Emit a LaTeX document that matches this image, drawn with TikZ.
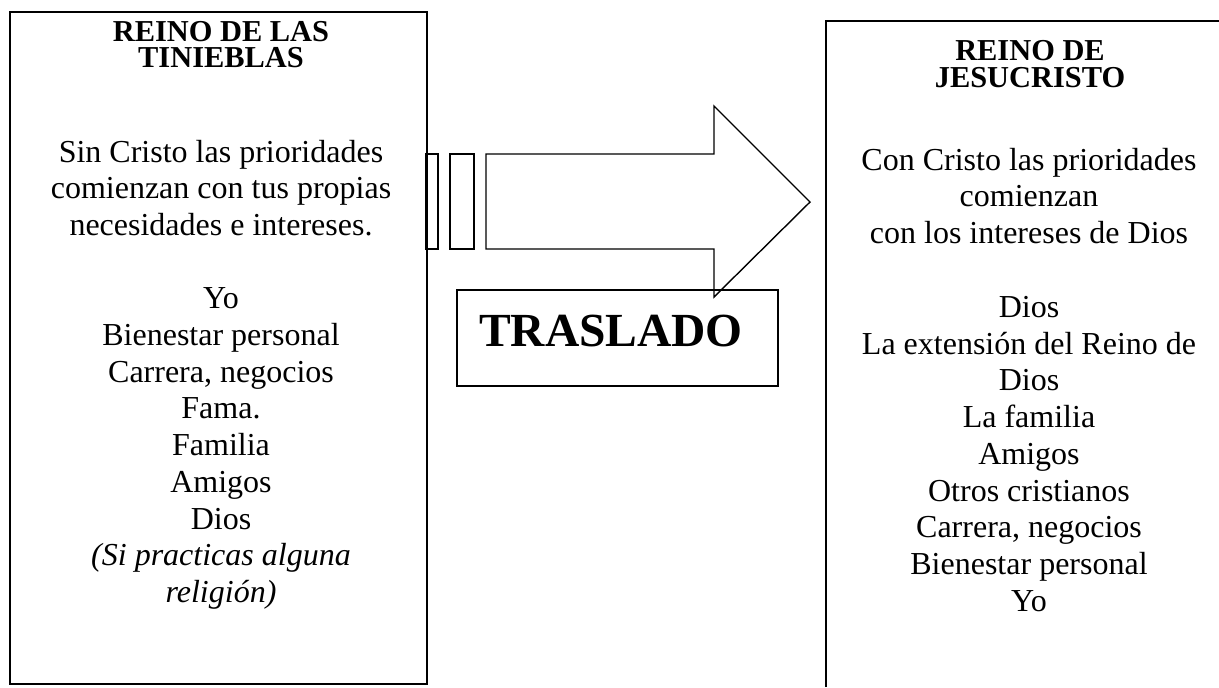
\documentclass[tikz,border=0pt]{standalone}
\usepackage{fontspec}
\setmainfont{Liberation Serif}
\usetikzlibrary{positioning, calc}
\tikzset{ % text and frame styles
  line/.style={line width=1pt},
  body/.style={anchor=base,inner sep=0,font=\fontsize{16}{18}\selectfont},
  title/.style={anchor=base,inner sep=0,text height=0.68em,text depth=0pt,
    font=\fontsize{15.2}{18}\selectfont\bfseries},
  big/.style={anchor=base,inner sep=0,font=\fontsize{23.75}{28}\selectfont\bfseries},
  frame/.style={draw,line,inner sep=0}
}

\begin{document}
\begin{tikzpicture}[x=0.5pt,y=-0.5pt]
\useasboundingbox (0,0) rectangle (1219,687);

% left box
\node[frame,minimum width=208.5pt,minimum height=336pt] (tinieblas) at (218,348) {};
\node[title] (tt1) at (221,41.5) {REINO DE LAS};
\node[title] (tt2) at (221,67.5) {TINIEBLAS};
\foreach \t [count=\i from 0] in {Sin Cristo las prioridades,comienzan con tus propias,necesidades e intereses.}
  \node[body] (ta\i) at (221,162+36.7*\i) {\t};
\foreach \t [count=\i from 0] in {Yo,Bienestar personal,{Carrera, negocios},Fama.,Familia,Amigos,Dios,\textit{(Si practicas alguna},\textit{religi\'on)}}
  \node[body] (tb\i) at (221,308.8+36.7*\i) {\t};

% right box, open to the right and below
\coordinate (jb) at (826,687);
\coordinate (jc) at (826,21.3);
\coordinate (jr) at (1219,21.3);
\draw[line] (jb) -- (jc) -- (jr);
\node[title] (jt1) at (1030,60.5) {REINO DE};
\node[title] (jt2) at (1030,87.5) {JESUCRISTO};
\foreach \t [count=\i from 0] in {Con Cristo las prioridades,comienzan,con los intereses de Dios}
  \node[body] (ja\i) at (1029,170+36.7*\i) {\t};
\foreach \t [count=\i from 0] in {Dios,La extensi\'on del Reino de,Dios,La familia,Amigos,Otros cristianos,{Carrera, negocios},Bienestar personal,Yo}
  \node[body] (jb\i) at (1029,317.5+36.7*\i) {\t};

% arrow
\foreach \a/\b in {426/438,450/474}
  \draw[line width=0.7pt] (\a,154) rectangle (\b,249);
\draw[line width=0.7pt,line join=miter] (486,154) -- (714,154) -- (714,106) -- (810,202)
  -- (714,297) -- (714,249) -- (486,249) -- cycle;

% label box
\node[frame,line width=0.7pt,minimum width=160.5pt,minimum height=48pt] (traslado) at (617.5,338) {};
\node[big] (tl) at (611,346) {TRASLADO};
\end{tikzpicture}
\end{document}
